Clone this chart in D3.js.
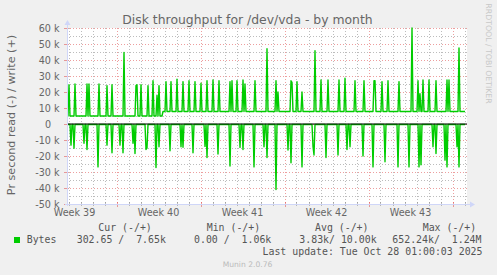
<!DOCTYPE html>
<html><head><meta charset="utf-8">
<script src="https://cdn.jsdelivr.net/npm/d3@7"></script>
<style>
body{margin:0;background:#f0f0f0}
svg{display:block}
text{font-family:"DejaVu Sans",sans-serif}
.mono{font-family:"DejaVu Sans Mono",monospace;white-space:pre}
</style>
</head><body><svg id="c" width="497" height="275"></svg>
<script>
// ---------- data ----------
const chartTitle = "Disk throughput for /dev/vda - by month";
const yAxisLabel = "Pr second read (-) / write (+)";
const yLabelTicks = [-50000,-40000,-30000,-20000,-10000,0,10000,20000,30000,40000,50000,60000];
const yMinorTicks = [-45000,-35000,-25000,-15000,-5000,5000,15000,25000,35000,45000,55000];
const startTime = Date.UTC(2025, 8, 24, 21);   // graph start
const endTime = Date.UTC(2025, 9, 28, 5);      // graph end
const stepHours = 2;                           // sample resolution
const sampleCount = 399;
// write (+) baseline levels (sample index where level starts, bytes/s)
const writeBaseIdx = [0, 96];
const writeBaseVal = [5000, 7800];
// write (+) spikes
const writeSpikeIdx = [2,8,20,22,32,40,45,57,69,70,74,81,86,90,92,99,104,110,116,122,128,134,140,146,152,163,165,170,176,178,188,200,209,211,224,225,230,235,248,254,261,272,278,288,297,307,308,315,321,332,345,351,353,356,362,369,380,382,392];
const writeSpikeVal = [24500,25000,25000,25000,25000,24000,24500,44700,24000,24500,24500,24000,27000,18000,24000,26500,26500,28000,26500,27000,26500,25500,27000,27500,27000,26500,27000,27000,27500,25000,27000,47000,27000,20000,27000,26000,26500,20000,45800,27500,27500,27500,28600,27000,27000,27000,27000,26500,27000,26500,60000,27000,19000,27500,27500,27000,27500,27500,47500];
// read (-) baseline and spikes (bytes/s, drawn negative)
const readBaseVal = 300;
const readSpikeIdx = [4,7,17,20,31,40,45,53,56,66,68,79,80,89,92,103,114,116,126,138,140,151,163,173,176,187,197,200,209,221,224,235,246,247,259,271,280,283,296,306,318,331,342,352,354,366,369,378,380,390,392];
const readSpikeVal = [13200,15200,12000,15900,26800,13200,18000,13200,18000,12000,18400,15900,15000,27200,14200,16700,14200,14500,18000,14000,20900,18800,26300,14600,15900,26800,14200,21000,41000,16300,24200,26800,14200,19400,21000,19400,15900,14200,20000,26800,23600,26800,26800,26800,25500,14200,18400,22600,26800,14200,26800];
// legend
const seriesName = "Bytes";
const legendHeaders = ["Cur (-/+)","Min (-/+)","Avg (-/+)","Max (-/+)"];
const legendValues = ["302.65 /  7.65k","0.00 /  1.06k","3.83k/ 10.00k","652.24k/  1.24M"];
const lastUpdate = "Last update: Tue Oct 28 01:00:03 2025";
const watermark = "Munin 2.0.76";
const sideText = "RRDTOOL / TOBI OETIKER";

// ---------- build series ----------
const wMap = new Map(writeSpikeIdx.map((d,i)=>[d, writeSpikeVal[i]]));
const rMap = new Map(readSpikeIdx.map((d,i)=>[d, readSpikeVal[i]]));
const writeSeries = [], readSeries = [];
for (let i = 0; i < sampleCount; i++) {
  let b = writeBaseVal[0];
  writeBaseIdx.forEach((s,k)=>{ if (i >= s) b = writeBaseVal[k]; });
  const t = new Date(startTime + i*stepHours*3600e3);
  writeSeries.push({t, v: wMap.has(i) ? wMap.get(i) : b});
  readSeries.push({t, v: -(rMap.has(i) ? rMap.get(i) : readBaseVal)});
}

// ---------- drawing ----------
const svg = d3.select("#c");
const L = 67, R = 467, T = 28, B = 204;
const x = d3.scaleUtc().domain([new Date(startTime), new Date(endTime)]).range([L, R]);
const y = d3.scaleLinear().domain([-50000, 60000]).range([B, T]);

svg.append("rect").attr("width",497).attr("height",275).attr("fill","#f0f0f0");
svg.append("rect").attr("x",L).attr("y",T).attr("width",R-L).attr("height",B-T).attr("fill","#fff");

const gridC = "rgba(143,143,143,0.6)", mgridC = "rgba(222,79,79,0.55)";
const grid = svg.append("g").attr("shape-rendering","crispEdges");
// horizontal
grid.selectAll(".hm").data(yMinorTicks).join("line")
  .attr("x1",L).attr("x2",R).attr("y1",d=>Math.round(y(d))+0.5).attr("y2",d=>Math.round(y(d))+0.5)
  .attr("stroke",gridC).attr("stroke-dasharray","1,2");
grid.selectAll(".hM").data(yLabelTicks).join("line")
  .attr("x1",L).attr("x2",R).attr("y1",d=>Math.round(y(d))+0.5).attr("y2",d=>Math.round(y(d))+0.5)
  .attr("stroke",mgridC).attr("stroke-dasharray","1,2");
// vertical
const days = d3.utcDay.range(new Date(startTime), new Date(endTime)).filter(d=>d.getUTCDay()!==1);
const mondays = d3.utcMonday.range(new Date(startTime), new Date(endTime));
grid.selectAll(".vm").data(days).join("line")
  .attr("x1",d=>Math.round(x(d))+0.5).attr("x2",d=>Math.round(x(d))+0.5).attr("y1",T).attr("y2",B)
  .attr("stroke",gridC).attr("stroke-dasharray","1,2");
grid.selectAll(".vM").data(mondays).join("line")
  .attr("x1",d=>Math.round(x(d))+0.5).attr("x2",d=>Math.round(x(d))+0.5).attr("y1",T).attr("y2",B)
  .attr("stroke",mgridC).attr("stroke-dasharray","1,2");
// axis ticks
grid.selectAll(".tm").data(days).join("line")
  .attr("x1",d=>Math.round(x(d))+0.5).attr("x2",d=>Math.round(x(d))+0.5).attr("y1",B-2).attr("y2",B+2)
  .attr("stroke",gridC);
grid.selectAll(".tM").data(mondays).join("line")
  .attr("x1",d=>Math.round(x(d))+0.5).attr("x2",d=>Math.round(x(d))+0.5).attr("y1",B-2).attr("y2",B+3)
  .attr("stroke",mgridC);
grid.selectAll(".ty").data(yLabelTicks).join("line")
  .attr("x1",L-3).attr("x2",L+2).attr("y1",d=>Math.round(y(d))+0.5).attr("y2",d=>Math.round(y(d))+0.5)
  .attr("stroke",mgridC);

// data lines
svg.append("clipPath").attr("id","pc").append("rect")
  .attr("x",L).attr("y",T-2).attr("width",R-L).attr("height",B-T+4);
const line = d3.line().x(d=>x(d.t)).y(d=>y(d.v));
const dg = svg.append("g").attr("clip-path","url(#pc)");
dg.append("path").datum(readSeries).attr("d",line).attr("fill","none").attr("stroke","#00cc00").attr("stroke-width",1.4).attr("stroke-linejoin","round");
dg.append("path").datum(writeSeries).attr("d",line).attr("fill","none").attr("stroke","#00cc00").attr("stroke-width",1.4).attr("stroke-linejoin","round");
// zero line
svg.append("line").attr("x1",L).attr("x2",R).attr("y1",y(0)).attr("y2",y(0))
  .attr("stroke","#000").attr("stroke-width",1);

// axes (munin colours)
const axC = "#cfd6f8";
svg.append("line").attr("x1",L+0.5).attr("x2",L+0.5).attr("y1",B+2).attr("y2",T-4).attr("stroke",axC);
svg.append("line").attr("x1",L-2).attr("x2",R+4).attr("y1",B+0.5).attr("y2",B+0.5).attr("stroke",axC);
svg.append("path").attr("d",`M${L-2.5},${T-3} L${L+0.5},${T-8} L${L+3.5},${T-3} Z`).attr("fill",axC);
svg.append("path").attr("d",`M${R+3},${B-2.5} L${R+8},${B+0.5} L${R+3},${B+3.5} Z`).attr("fill",axC);

// y tick labels
const fmtY = v => v===0 ? "0" : (v/1000) + " k";
svg.append("g").selectAll("text").data(yLabelTicks).join("text")
  .attr("x",d=> d===0 ? 51 : 59.5).attr("y",d=>y(d)+3.5)
  .attr("text-anchor","end").attr("font-size",9.6).attr("fill","#666").text(fmtY);

// week labels (centred in the week)
const weekStarts = d3.utcMonday.range(d3.utcMonday.floor(new Date(startTime)), new Date(endTime));
svg.append("g").selectAll("text").data(weekStarts.filter(d=>x(d3.utcHour.offset(d,84))<R)).join("text")
  .attr("x",d=>x(d3.utcHour.offset(d,84))).attr("y",216)
  .attr("text-anchor","middle").attr("font-size",9.6).attr("fill","#666")
  .text(d=>"Week "+d3.utcFormat("%V")(d));

// title
svg.append("text").attr("x",247.5).attr("y",23.5).attr("text-anchor","middle")
  .attr("font-size",12.4).attr("fill","#666").text(chartTitle);
// y label
svg.append("text").attr("transform","translate(15,115) rotate(-90)").attr("text-anchor","middle")
  .attr("font-size",11.2).attr("fill","#666").text(yAxisLabel);
// side text
svg.append("text").attr("transform","translate(486,53.5) rotate(90)").attr("text-anchor","middle")
  .attr("font-size",7.8).attr("fill","#c8c8c8").text(sideText);

// legend
const hdrX = [98.3,206.7,315,422.7], valX = [76.7,194,299.3,392.3];
svg.append("rect").attr("x",14).attr("y",237).attr("width",6).attr("height",6).attr("fill","#00cc00");
svg.append("text").attr("class","mono").attr("x",26.7).attr("y",243.4).attr("font-size",9.9).attr("fill","#555").text(seriesName);
svg.append("g").selectAll("text").data(legendHeaders).join("text").attr("class","mono")
  .attr("x",(d,i)=>hdrX[i]).attr("y",231.2).attr("font-size",9.9).attr("fill","#555").text(d=>d);
svg.append("g").selectAll("text").data(legendValues).join("text").attr("class","mono")
  .attr("x",(d,i)=>valX[i]).attr("y",243.4).attr("font-size",9.9).attr("fill","#555").text(d=>d);
svg.append("text").attr("class","mono").attr("x",482.5).attr("y",255.4).attr("text-anchor","end")
  .attr("font-size",9.9).attr("fill","#555").text(lastUpdate);
svg.append("text").attr("x",247.5).attr("y",266.8).attr("text-anchor","middle")
  .attr("font-size",7.6).attr("fill","#bbb").text(watermark);
</script>
</body></html>
